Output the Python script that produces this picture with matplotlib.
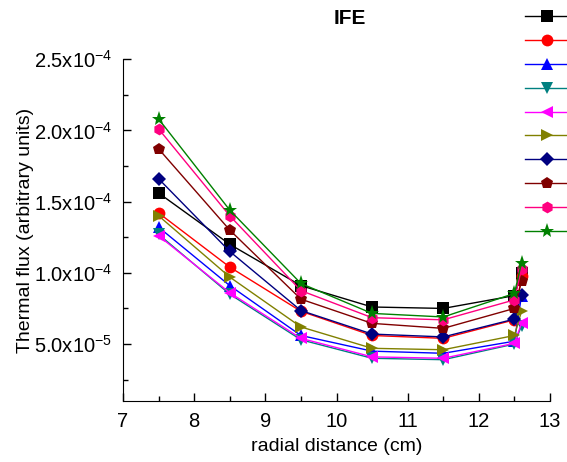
import numpy as np
import matplotlib.pyplot as plt
from matplotlib.ticker import MultipleLocator, FixedLocator

plt.rcParams['font.family'] = ['Liberation Sans', 'DejaVu Sans']
plt.rcParams['mathtext.fontset'] = 'custom'
plt.rcParams['mathtext.rm'] = 'Liberation Sans'

# radial positions (cm)
x = [7.5, 8.5, 9.5, 10.5, 11.5, 12.5, 12.6]

# thermal flux for the ten series
s_black = [1.56e-4, 1.20e-4, 9.1e-5, 7.6e-5, 7.5e-5, 8.4e-5, 1.0e-4]
s_red = [1.42e-4, 1.04e-4, 7.3e-5, 5.6e-5, 5.4e-5, 6.7e-5, 9.8e-5]
s_blue = [1.32e-4, 9.1e-5, 5.6e-5, 4.5e-5, 4.35e-5, 5.2e-5, 8.4e-5]
s_teal = [1.27e-4, 8.5e-5, 5.3e-5, 4.0e-5, 3.9e-5, 5.0e-5, 6.3e-5]
s_magenta = [1.26e-4, 8.6e-5, 5.4e-5, 4.1e-5, 4.0e-5, 5.05e-5, 6.45e-5]
s_olive = [1.40e-4, 9.7e-5, 6.2e-5, 4.7e-5, 4.6e-5, 5.6e-5, 7.3e-5]
s_navy = [1.66e-4, 1.15e-4, 7.35e-5, 5.7e-5, 5.5e-5, 6.75e-5, 8.45e-5]
s_maroon = [1.87e-4, 1.30e-4, 8.15e-5, 6.45e-5, 6.1e-5, 7.5e-5, 9.4e-5]
s_pink = [2.01e-4, 1.40e-4, 8.75e-5, 6.85e-5, 6.7e-5, 8.1e-5, 1.03e-4]
s_green = [2.08e-4, 1.44e-4, 9.25e-5, 7.15e-5, 6.9e-5, 8.55e-5, 1.07e-4]

ytick_vals = [5e-5, 1e-4, 1.5e-4, 2e-4, 2.5e-4]
ytick_labels = [r'$\mathregular{5.0x10^{-5}}$', r'$\mathregular{1.0x10^{-4}}$',
                r'$\mathregular{1.5x10^{-4}}$', r'$\mathregular{2.0x10^{-4}}$',
                r'$\mathregular{2.5x10^{-4}}$']

series = [s_black, s_red, s_blue, s_teal, s_magenta, s_olive, s_navy, s_maroon, s_pink, s_green]
colors = ['#000000', '#ff0000', '#0000ff', '#008080', '#ff00ff', '#808000',
          '#000080', '#800000', '#ff0080', '#008000']
markers = ['s', 'o', '^', 'v', '<', '>', 'D', 'p', 'h', '*']
msizes = [8, 8.5, 9, 9, 9, 9, 7.5, 9, 8.5, 11]

fig = plt.figure(figsize=(5.67, 4.62), dpi=100)
ax = fig.add_axes([0.217, 0.132, 0.753, 0.740])

handles = []
for s, c, m, ms in zip(series, colors, markers, msizes):
    h, = ax.plot(x, s, color=c, marker=m, markersize=ms, markeredgewidth=0, linewidth=1)
    handles.append(h)

ax.set_xlim(7, 13)
ax.set_ylim(1e-5, 2.5e-4)
ax.xaxis.set_major_locator(MultipleLocator(1))
ax.xaxis.set_minor_locator(MultipleLocator(0.5))
ax.yaxis.set_major_locator(FixedLocator(ytick_vals))
ax.yaxis.set_minor_locator(FixedLocator([2.5e-5, 7.5e-5, 1.25e-4, 1.75e-4, 2.25e-4]))
ax.set_yticklabels(ytick_labels)
ax.tick_params(which='both', direction='in', width=1, labelsize=14.5)
ax.tick_params(which='major', length=6)
ax.tick_params(which='minor', length=3.5)
ax.tick_params(axis='x', which='major', pad=8)
ax.tick_params(axis='y', which='major', pad=8)
ax.spines['top'].set_visible(False)
ax.spines['right'].set_visible(False)

ax.set_xlabel('radial distance (cm)', fontsize=14, labelpad=5)
ax.set_ylabel('Thermal flux (arbitrary units)', fontsize=14, labelpad=0)
fig.text(0.617, 0.96, 'IFE', fontsize=15, fontweight='bold', ha='center', va='center')

fig.legend(handles, [''] * 10, loc='upper left', bbox_to_anchor=(518 / 567, 1 - 3 / 462),
           frameon=False, handlelength=3.2, labelspacing=0.71, borderpad=0, fontsize=10)

fig.savefig('out.png', dpi=100)
